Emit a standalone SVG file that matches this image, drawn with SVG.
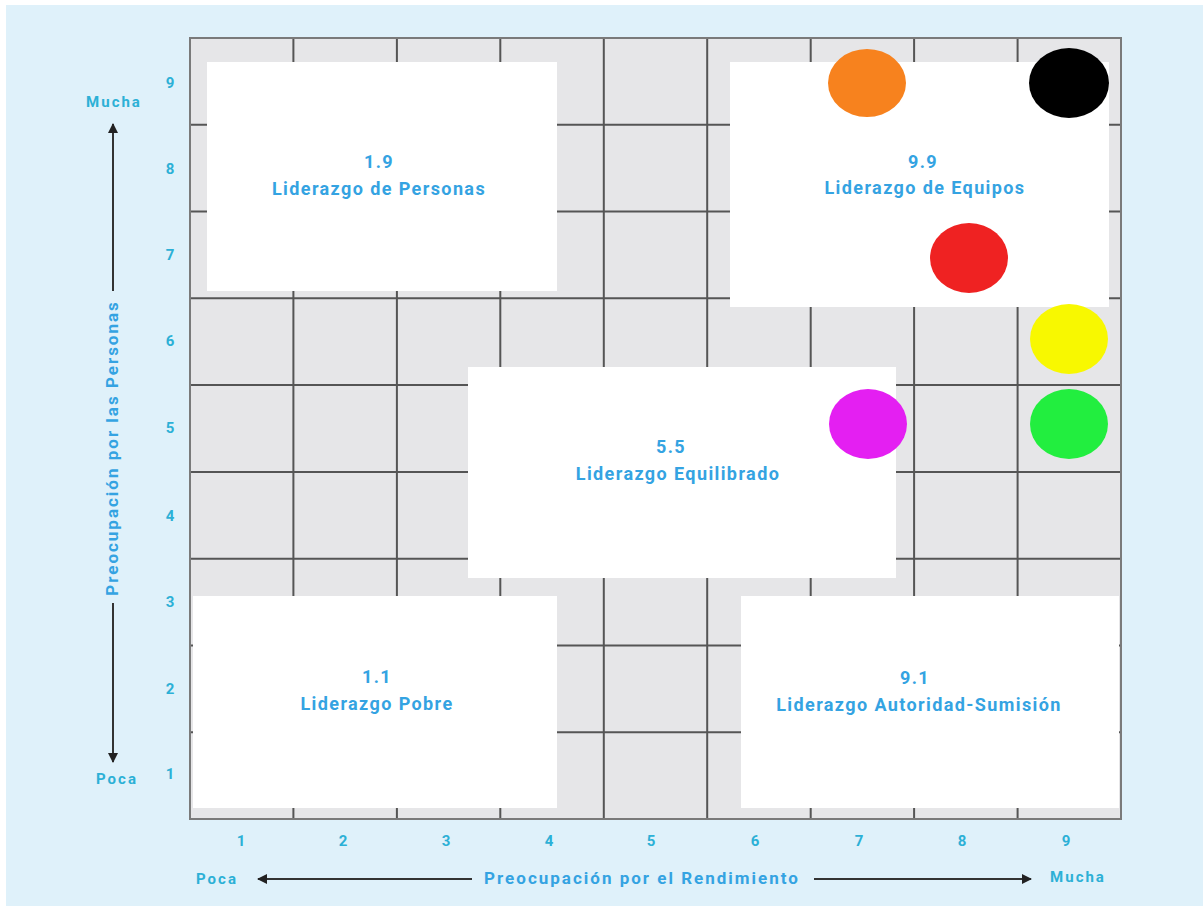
<svg xmlns="http://www.w3.org/2000/svg" width="1203" height="906" viewBox="0 0 1203 906">
<defs>
<style>
.bg{fill:#dff1fa}
.cell{fill:#e6e6e8}
.gl{stroke:#555;stroke-width:2;fill:none}
.border{stroke:#7a7a7a;stroke-width:2;fill:none}
.box{fill:#ffffff}
.lbl{font-family:Roboto,"Liberation Sans",sans-serif;font-weight:700;font-size:18px;letter-spacing:1.4px;fill:#34a3e2;text-anchor:middle}
.ax{font-family:Roboto,"Liberation Sans",sans-serif;font-weight:700;font-size:15px;letter-spacing:2px;fill:#2cb0d6;text-anchor:middle}
.axt{font-family:Roboto,"Liberation Sans",sans-serif;font-weight:700;font-size:17px;letter-spacing:2px;fill:#34a3e2;text-anchor:middle}
.arr{stroke:#333;stroke-width:2;fill:none}
</style>
<marker id="ah" viewBox="0 0 10 10" refX="9" refY="5" markerWidth="5" markerHeight="5" orient="auto-start-reverse">
<path d="M0,0 L10,5 L0,10 z" fill="#222"/>
</marker>
</defs>
<rect x="0" y="0" width="1203" height="906" fill="#ffffff"/>
<rect class="bg" x="6" y="5" width="1197" height="901"/>
<g id="grid">
<rect class="cell" x="190" y="38" width="931" height="781"/>
<path class="gl" d="M293.4,38V819M396.9,38V819M500.3,38V819M603.8,38V819M707.2,38V819M810.7,38V819M914.1,38V819M1017.6,38V819M190,124.8H1121M190,211.6H1121M190,298.3H1121M190,385.1H1121M190,471.9H1121M190,558.7H1121M190,645.4H1121M190,732.2H1121"/>
<rect class="border" x="190" y="38" width="931" height="781"/>
</g>
<g id="axis-labels">
<text class="ax" x="171" y="88">9</text>
<text class="ax" x="171" y="174">8</text>
<text class="ax" x="171" y="260">7</text>
<text class="ax" x="171" y="346">6</text>
<text class="ax" x="171" y="433">5</text>
<text class="ax" x="171" y="521">4</text>
<text class="ax" x="171" y="607">3</text>
<text class="ax" x="171" y="694">2</text>
<text class="ax" x="171" y="779">1</text>
<text class="ax" x="242" y="846">1</text>
<text class="ax" x="344" y="846">2</text>
<text class="ax" x="447" y="846">3</text>
<text class="ax" x="550" y="846">4</text>
<text class="ax" x="652" y="846">5</text>
<text class="ax" x="756" y="846">6</text>
<text class="ax" x="860" y="846">7</text>
<text class="ax" x="963" y="846">8</text>
<text class="ax" x="1067" y="846">9</text>
<text class="ax" x="114" y="107">Mucha</text>
<text class="ax" x="117" y="784">Poca</text>
<text class="ax" x="217" y="884">Poca</text>
<text class="ax" x="1078" y="882">Mucha</text>
<text class="axt" x="642" y="884">Preocupación por el Rendimiento</text>
<text class="axt" transform="translate(118,448) rotate(-90)">Preocupación por las Personas</text>
</g>
<g id="connectors">
<path class="arr" d="M113,291V124" marker-end="url(#ah)"/>
<path class="arr" d="M113,603V762" marker-end="url(#ah)"/>
<path class="arr" d="M472,879H258" marker-end="url(#ah)"/>
<path class="arr" d="M814,879H1031" marker-end="url(#ah)"/>
</g>
<g id="node-1-9">
<rect class="box" x="207" y="62" width="350" height="229"/>
<text class="lbl" x="379" y="168">1.9</text>
<text class="lbl" x="379" y="195">Liderazgo de Personas</text>
</g>
<g id="node-9-9">
<rect class="box" x="730" y="62" width="379" height="245"/>
<text class="lbl" x="923" y="168">9.9</text>
<text class="lbl" x="925" y="194">Liderazgo de Equipos</text>
</g>
<g id="node-5-5">
<rect class="box" x="468" y="367" width="428" height="211"/>
<text class="lbl" x="671" y="453">5.5</text>
<text class="lbl" x="678" y="480">Liderazgo Equilibrado</text>
</g>
<g id="node-1-1">
<rect class="box" x="193" y="596" width="364" height="212"/>
<text class="lbl" x="377" y="683">1.1</text>
<text class="lbl" x="377" y="710">Liderazgo Pobre</text>
</g>
<g id="node-9-1">
<rect class="box" x="741" y="596" width="378" height="212"/>
<text class="lbl" x="915" y="684">9.1</text>
<text class="lbl" x="919" y="711">Liderazgo Autoridad-Sumisión</text>
</g>
<g id="dots">
<ellipse id="dot-orange" cx="867" cy="83" rx="39" ry="34" fill="#f7821e"/>
<ellipse id="dot-black" cx="1069" cy="83" rx="40" ry="35" fill="#000000"/>
<ellipse id="dot-red" cx="969" cy="258" rx="39" ry="35" fill="#ef2222"/>
<ellipse id="dot-yellow" cx="1069" cy="339" rx="39" ry="35" fill="#f8f800"/>
<ellipse id="dot-magenta" cx="868" cy="424" rx="39" ry="35" fill="#e41ff2"/>
<ellipse id="dot-green" cx="1069" cy="424" rx="39" ry="35" fill="#22ee3f"/>
</g>
</svg>
